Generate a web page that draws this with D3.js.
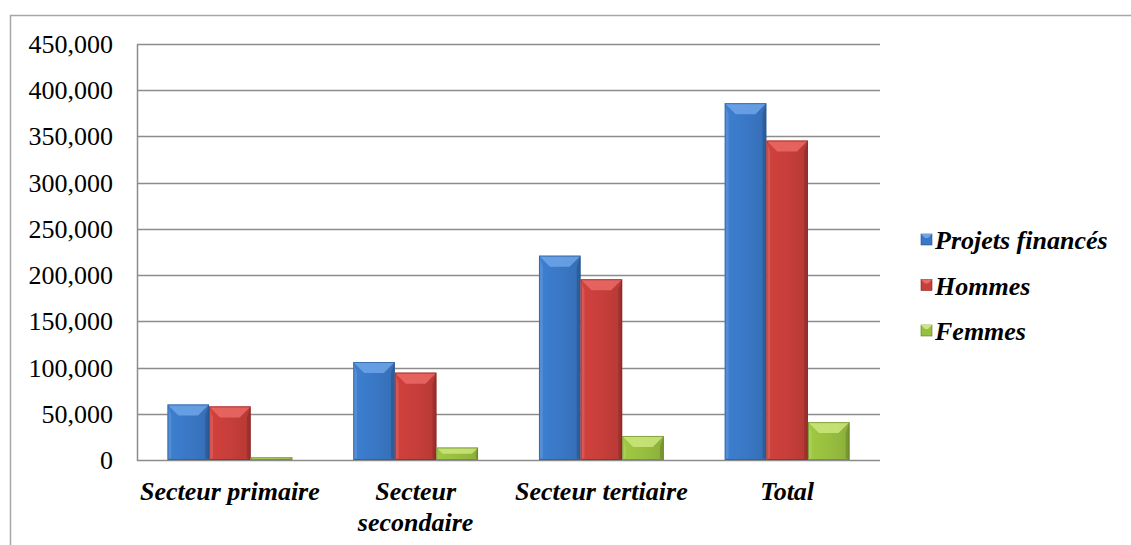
<!doctype html>
<html>
<head>
<meta charset="utf-8">
<script src="https://d3js.org/d3.v7.min.js"></script>
</head>
<body style="margin:0">
<script>
    // data
    const categories = ["Secteur primaire", "Secteur secondaire", "Secteur tertiaire", "Total"];
    const seriesNames = ["Projets financés", "Hommes", "Femmes"];
    const projets = [60000, 106000, 221000, 386000];
    const hommes = [58000, 94500, 195500, 345500];
    const femmes = [3000, 13500, 26000, 41000];
    const yTicks = [0, 50000, 100000, 150000, 200000, 250000, 300000, 350000, 400000, 450000];

    const seriesValues = [projets, hommes, femmes];
    const palette = [
        {base: "#3a78c6", light: "#6fa4e8", dark: "#25558f"},
        {base: "#c73e3a", light: "#ea6a66", dark: "#85231f"},
        {base: "#98bf3f", light: "#cbe67c", dark: "#5f7d1f"}
    ];

    const width = 1131, height = 545;
    const plot = {left: 137, right: 880, top: 44, bottom: 460};
    const serif = "'Liberation Serif', monospace";

    const svg = d3.select("body").append("svg")
        .attr("width", width)
        .attr("height", height);

    // gradients for each series
    const defs = svg.append("defs");
    palette.forEach((c, i) => {
        const g = defs.append("linearGradient")
            .attr("id", "grad" + i)
            .attr("x1", 0).attr("x2", 1).attr("y1", 0).attr("y2", 0);
        g.append("stop").attr("offset", "0%").attr("stop-color", d3.color(c.base).brighter(0.15));
        g.append("stop").attr("offset", "50%").attr("stop-color", c.base);
        g.append("stop").attr("offset", "100%").attr("stop-color", d3.color(c.base).darker(0.25));
    });

    // outer frame (top and left edges visible)
    svg.append("path")
        .attr("d", "M10.5,545 L10.5,15.5 L1131,15.5")
        .attr("fill", "none")
        .attr("stroke", "#a6a6a6")
        .attr("stroke-width", 1.5);

    const x0 = d3.scaleBand()
        .domain(categories)
        .range([plot.left, plot.right])
        .paddingInner(0.328)
        .paddingOuter(0.164);

    const x1 = d3.scaleBand()
        .domain(seriesNames)
        .range([0, x0.bandwidth()]);

    const y = d3.scaleLinear()
        .domain([0, 450000])
        .range([plot.bottom, plot.top]);

    // gridlines
    svg.append("g")
        .selectAll("line")
        .data(yTicks)
        .join("line")
        .attr("x1", plot.left)
        .attr("x2", plot.right)
        .attr("y1", d => Math.round(y(d)) + 0.5)
        .attr("y2", d => Math.round(y(d)) + 0.5)
        .attr("stroke", "#8c8c8c")
        .attr("stroke-width", 1.5);

    // left axis line
    svg.append("line")
        .attr("x1", plot.left + 0.5).attr("x2", plot.left + 0.5)
        .attr("y1", plot.top).attr("y2", plot.bottom + 1)
        .attr("stroke", "#8c8c8c")
        .attr("stroke-width", 1.5);

    // y tick labels
    const fmt = d3.format(",");
    svg.append("g")
        .selectAll("text")
        .data(yTicks)
        .join("text")
        .attr("x", 113)
        .attr("y", d => y(d) + 9)
        .attr("text-anchor", "end")
        .attr("font-size", 26)
        .style("font-family", serif)
        .text(d => fmt(d));

    // bars with a bevel look
    const bars = [];
    categories.forEach((cat, ci) => {
        seriesNames.forEach((s, si) => {
            bars.push({cat: cat, series: s, si: si, value: seriesValues[si][ci]});
        });
    });

    const gBars = svg.append("g");
    bars.forEach(d => {
        const bx = x0(d.cat) + x1(d.series);
        const bw = x1.bandwidth();
        const by = y(d.value);
        const bh = y(0) - by;
        const c = palette[d.si];
        const b = Math.min(11, bh / 2, bw / 3.5);
        const g = gBars.append("g");

        g.append("rect")
            .attr("x", bx).attr("y", by)
            .attr("width", bw).attr("height", bh)
            .attr("fill", "url(#grad" + d.si + ")");

        // top bevel
        g.append("polygon")
            .attr("points", [[bx, by], [bx + bw, by], [bx + bw - b, by + b], [bx + b, by + b]].join(" "))
            .attr("fill", c.light)
            .attr("opacity", 0.85);
        // left bevel
        g.append("polygon")
            .attr("points", [[bx, by], [bx + b * 0.35, by + b], [bx + b * 0.35, by + bh - 2], [bx, by + bh]].join(" "))
            .attr("fill", "#fff")
            .attr("opacity", 0.12);
        // right bevel
        g.append("polygon")
            .attr("points", [[bx + bw, by], [bx + bw - b * 0.35, by + b], [bx + bw - b * 0.35, by + bh - 2], [bx + bw, by + bh]].join(" "))
            .attr("fill", "#000")
            .attr("opacity", 0.15);

        g.append("rect")
            .attr("x", bx + 0.5).attr("y", by + 0.5)
            .attr("width", Math.max(0, bw - 1)).attr("height", Math.max(0, bh - 1))
            .attr("fill", "none")
            .attr("stroke", c.dark)
            .attr("stroke-opacity", 0.6)
            .attr("stroke-width", 1);
    });

    // category labels; long ones go on two lines
    const catLabels = svg.append("g")
        .selectAll("text")
        .data(categories)
        .join("text")
        .attr("x", d => x0(d) + x0.bandwidth() / 2)
        .attr("y", 500)
        .attr("text-anchor", "middle")
        .attr("font-size", 26)
        .attr("font-weight", "bold")
        .attr("font-style", "italic")
        .style("font-family", serif);

    catLabels.each(function(d) {
        const t = d3.select(this);
        const lines = d.length > 17 ? d.split(" ") : [d];
        lines.forEach((w, i) => {
            t.append("tspan")
                .attr("x", x0(d) + x0.bandwidth() / 2)
                .attr("dy", i === 0 ? 0 : 31)
                .text(w);
        });
    });

    // legend
    const legend = svg.append("g")
        .selectAll("g")
        .data(seriesNames)
        .join("g")
        .attr("transform", (d, i) => `translate(921, ${240 + i * 45.5})`);

    legend.append("rect")
        .attr("x", 0).attr("y", -6)
        .attr("width", 11).attr("height", 11)
        .attr("fill", (d, i) => palette[i].base)
        .attr("stroke", (d, i) => palette[i].dark)
        .attr("stroke-width", 0.6);

    legend.append("polygon")
        .attr("points", "0,-6 11,-6 7,-2 4,-2")
        .attr("fill", (d, i) => palette[i].light);

    legend.append("text")
        .attr("x", 14)
        .attr("y", 9)
        .attr("font-size", 26)
        .attr("font-weight", "bold")
        .attr("font-style", "italic")
        .style("font-family", serif)
        .text(d => d);
</script>
</body>
</html>
